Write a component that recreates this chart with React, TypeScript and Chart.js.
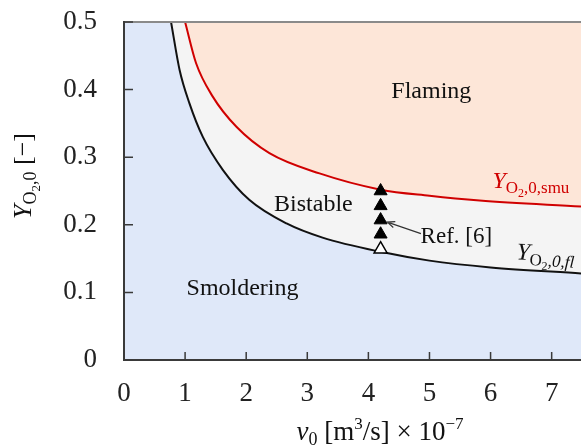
import React, { useEffect, useRef } from "react";
import { Chart, registerables } from "chart.js";

Chart.register(...registerables);

// ---- data ----
const xTicks = [0, 1, 2, 3, 4, 5, 6, 7];
const yTicks = [0, 0.1, 0.2, 0.3, 0.4, 0.5];
const yTickLabels = ["0", "0.1", "0.2", "0.3", "0.4", "0.5"];

// Y_O2,0,fl boundary (smoldering / bistable)
const flX = [0.77, 0.91, 1.07, 1.29, 1.62, 2.05, 2.66, 3.25, 4.2, 5.0, 6.0, 7.48];
const flY = [0.5, 0.429, 0.38, 0.33, 0.281, 0.237, 0.202, 0.181, 0.16, 0.147, 0.137, 0.128];

// Y_O2,0,smu boundary (bistable / flaming)
const smuX = [1.0, 1.18, 1.45, 1.84, 2.38, 3.2, 4.2, 5.0, 5.82, 7.48];
const smuY = [0.5, 0.439, 0.39, 0.345, 0.306, 0.276, 0.252, 0.243, 0.236, 0.227];

// Ref. [6] experiments
const refFlamingX = [4.2, 4.2, 4.2, 4.2];
const refFlamingY = [0.25, 0.228, 0.207, 0.186];
const refSmolderX = [4.2];
const refSmolderY = [0.164];

const X_MIN = 0;
const X_MAX = 7.48;
const Y_MIN = 0;
const Y_MAX = 0.5;

// ---- styles ----
const FONT = '"Liberation Serif", "Times New Roman", serif';
const SMOLDER_BG = "#dfe8f9";
const BISTABLE_BG = "#f4f4f4";
const FLAMING_BG = "#fde6d8";
const RED = "#d00000";

type Run = { t: string; size: number; italic?: boolean; dy?: number };

function runFont(r: Run) {
  return `${r.italic ? "italic " : ""}${r.size}px ${FONT}`;
}

function drawRuns(
  ctx: CanvasRenderingContext2D,
  runs: Run[],
  x: number,
  y: number,
  align: "left" | "center",
  color: string
) {
  ctx.save();
  ctx.fillStyle = color;
  ctx.textBaseline = "alphabetic";
  ctx.textAlign = "left";
  let total = 0;
  for (const r of runs) {
    ctx.font = runFont(r);
    total += ctx.measureText(r.t).width;
  }
  let cx = align === "center" ? x - total / 2 : x;
  for (const r of runs) {
    ctx.font = runFont(r);
    ctx.fillText(r.t, cx, y + (r.dy || 0));
    cx += ctx.measureText(r.t).width;
  }
  ctx.restore();
}

export default function App() {
  const ref = useRef<HTMLCanvasElement>(null);

  useEffect(() => {
    const canvas = ref.current!;

    const bgPlugin = {
      id: "bg",
      beforeDraw(chart: any) {
        const { ctx, chartArea: a } = chart;
        ctx.save();
        ctx.fillStyle = SMOLDER_BG;
        ctx.fillRect(a.left, a.top, a.right - a.left, a.bottom - a.top);
        ctx.restore();
      },
    };

    const overlay = {
      id: "overlay",
      afterDraw(chart: any) {
        const { ctx, chartArea: a } = chart;
        const xs = chart.scales.x;
        const ys = chart.scales.y;
        const px = (v: number) => xs.getPixelForValue(v);
        const py = (v: number) => ys.getPixelForValue(v);

        ctx.save();
        // top frame
        ctx.strokeStyle = "#8a8a8a";
        ctx.lineWidth = 2;
        ctx.beginPath();
        ctx.moveTo(a.left, a.top);
        ctx.lineTo(a.right, a.top);
        ctx.stroke();
        // axes
        ctx.strokeStyle = "#3a3a3a";
        ctx.lineWidth = 2;
        ctx.beginPath();
        ctx.moveTo(a.left, a.top - 1);
        ctx.lineTo(a.left, a.bottom);
        ctx.lineTo(a.right, a.bottom);
        ctx.stroke();
        // inward ticks
        ctx.lineWidth = 1.5;
        ctx.beginPath();
        for (const v of xTicks) {
          const p = px(v);
          ctx.moveTo(p, a.bottom);
          ctx.lineTo(p, a.bottom - 8);
        }
        for (const v of yTicks) {
          const p = py(v);
          ctx.moveTo(a.left, p);
          ctx.lineTo(a.left + 9, p);
        }
        ctx.stroke();

        // region labels
        ctx.font = `24px ${FONT}`;
        ctx.fillStyle = "#111";
        ctx.textAlign = "center";
        ctx.textBaseline = "alphabetic";
        ctx.fillText("Flaming", px(5.03), py(0.388));
        ctx.fillText("Bistable", px(3.1), py(0.221));
        ctx.fillText("Smoldering", px(1.94), py(0.096));
        ctx.font = `23px ${FONT}`;
        ctx.fillText("Ref. [6]", px(5.44), py(0.173));

        // arrow
        const x1 = px(4.86), y1 = py(0.187);
        const x2 = px(4.31), y2 = py(0.204);
        ctx.strokeStyle = "#333";
        ctx.lineWidth = 1.2;
        ctx.beginPath();
        ctx.moveTo(x1, y1);
        ctx.lineTo(x2, y2);
        const ang = Math.atan2(y2 - y1, x2 - x1);
        const hl = 8;
        ctx.moveTo(x2 - hl * Math.cos(ang - 0.4), y2 - hl * Math.sin(ang - 0.4));
        ctx.lineTo(x2, y2);
        ctx.lineTo(x2 - hl * Math.cos(ang + 0.4), y2 - hl * Math.sin(ang + 0.4));
        ctx.stroke();

        // curve labels
        drawRuns(
          ctx,
          [
            { t: "Y", size: 24, italic: true },
            { t: "O", size: 17, dy: 5 },
            { t: "2", size: 12, dy: 9 },
            { t: ",0,smu", size: 17, dy: 5 },
          ],
          px(6.03),
          py(0.254),
          "left",
          RED
        );
        ctx.save();
        ctx.translate(px(6.42), py(0.149));
        ctx.rotate((3.5 * Math.PI) / 180);
        drawRuns(
          ctx,
          [
            { t: "Y", size: 24, italic: true },
            { t: "O", size: 17, dy: 5 },
            { t: "2", size: 12, dy: 9 },
            { t: ",0,fl", size: 17, italic: true, dy: 5 },
          ],
          0,
          0,
          "left",
          "#111"
        );
        ctx.restore();

        // y axis title
        ctx.save();
        ctx.translate(31, 176);
        ctx.rotate(-Math.PI / 2);
        drawRuns(
          ctx,
          [
            { t: "Y", size: 26, italic: true },
            { t: "O", size: 18, dy: 5 },
            { t: "2", size: 13, dy: 9 },
            { t: ",0", size: 18, dy: 5 },
            { t: " [\u2212]", size: 26 },
          ],
          0,
          0,
          "center",
          "#111"
        );
        ctx.restore();

        // x axis title
        drawRuns(
          ctx,
          [
            { t: "v", size: 27, italic: true },
            { t: "0", size: 18, dy: 5 },
            { t: " [m", size: 27 },
            { t: "3", size: 17, dy: -11 },
            { t: "/s] \u00d7 10", size: 27 },
            { t: "\u22127", size: 17, dy: -11 },
          ],
          380,
          440,
          "center",
          "#111"
        );
        ctx.restore();
      },
    };

    const chart = new Chart(canvas, {
      type: "scatter",
      data: {
        datasets: [
          {
            label: "Ref. [6] flaming",
            data: refFlamingX.map((x, i) => ({ x, y: refFlamingY[i] })),
            pointStyle: "triangle",
            pointRadius: 7.5,
            backgroundColor: "#000",
            borderColor: "#000",
            borderWidth: 1,
            order: 1,
          },
          {
            label: "Ref. [6] smoldering",
            data: refSmolderX.map((x, i) => ({ x, y: refSmolderY[i] })),
            pointStyle: "triangle",
            pointRadius: 7.5,
            backgroundColor: "#fff",
            borderColor: "#000",
            borderWidth: 1.5,
            order: 0,
          },
          {
            label: "Y_O2,0,smu",
            data: smuX.map((x, i) => ({ x, y: smuY[i] })),
            showLine: true,
            borderColor: RED,
            borderWidth: 2,
            pointRadius: 0,
            fill: "end",
            backgroundColor: FLAMING_BG,
            cubicInterpolationMode: "monotone",
            order: 2,
          },
          {
            label: "Y_O2,0,fl",
            data: flX.map((x, i) => ({ x, y: flY[i] })),
            showLine: true,
            borderColor: "#111",
            borderWidth: 2,
            pointRadius: 0,
            fill: "end",
            backgroundColor: BISTABLE_BG,
            cubicInterpolationMode: "monotone",
            order: 3,
          },
        ],
      },
      options: {
        responsive: false,
        animation: false,
        layout: { autoPadding: false, padding: { top: 22, right: 0, left: 0, bottom: 0 } },
        plugins: {
          legend: { display: false },
          tooltip: { enabled: false },
        },
        events: [],
        scales: {
          x: {
            type: "linear",
            min: X_MIN,
            max: X_MAX,
            afterBuildTicks: (s: any) => {
              s.ticks = xTicks.map((v) => ({ value: v }));
            },
            afterFit: (s: any) => {
              s.height = 85;
              s.paddingLeft = 0;
              s.paddingRight = 0;
            },
            ticks: {
              font: { family: FONT, size: 27 },
              color: "#222",
              padding: 18,
              maxRotation: 0,
              autoSkip: false,
            },
            grid: { display: false, drawTicks: false },
            border: { display: false },
          },
          y: {
            type: "linear",
            min: Y_MIN,
            max: Y_MAX,
            afterBuildTicks: (s: any) => {
              s.ticks = yTicks.map((v) => ({ value: v }));
            },
            afterFit: (s: any) => {
              s.width = 124;
              s.paddingTop = 0;
              s.paddingBottom = 0;
            },
            ticks: {
              font: { family: FONT, size: 27 },
              color: "#222",
              padding: 27,
              autoSkip: false,
              callback: (_v: any, i: number) => yTickLabels[i],
            },
            grid: { display: false, drawTicks: false },
            border: { display: false },
          },
        },
      },
      plugins: [bgPlugin, overlay],
    } as any);

    return () => chart.destroy();
  }, []);

  return (
    <div style={{ position: "absolute", left: 0, top: 0, width: 581, height: 445 }}>
      <canvas ref={ref} width={581} height={445} style={{ display: "block" }} />
    </div>
  );
}
